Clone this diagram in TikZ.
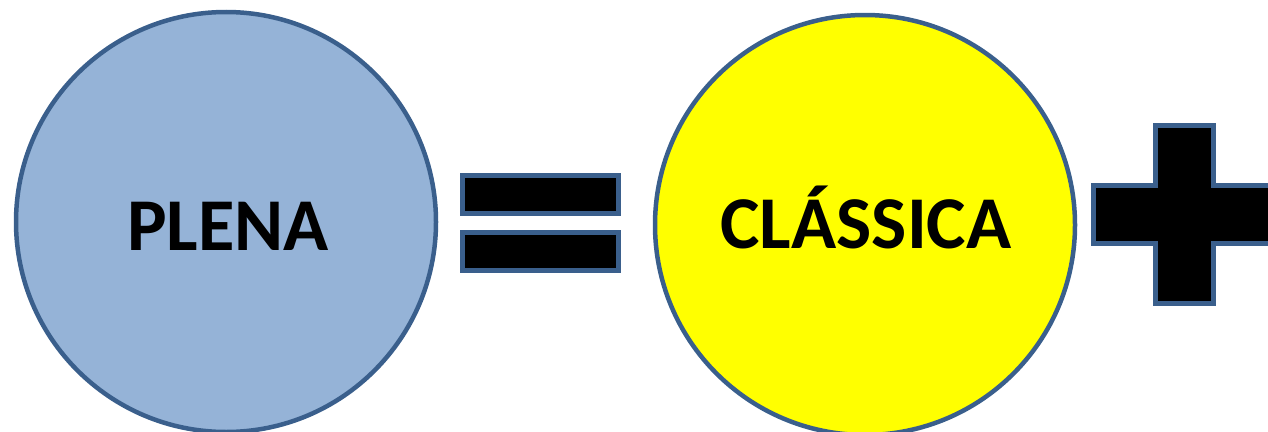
\documentclass[tikz,border=0pt]{standalone}
\usepackage{fontspec}
\setmainfont{Carlito}
\definecolor{edgeblue}{HTML}{3A5F8C}
\definecolor{fillblue}{HTML}{95B3D7}
\definecolor{fillyellow}{HTML}{FFFF00}
\begin{document}
\begin{tikzpicture}[x=1pt,y=-1pt,
  bigcircle/.style={circle,draw=edgeblue,line width=4.5pt,minimum size=420pt,inner sep=0pt},
  bigtext/.style={anchor=base,inner sep=0pt,font=\fontsize{74.5}{80}\selectfont\bfseries},
  opbar/.style={draw=edgeblue,fill=black,line width=5pt}]
\useasboundingbox (0,0) rectangle (1268,431);
\clip (0,0) rectangle (1268,431);
\node[bigcircle,fill=fillblue] (plena) at (226,222) {};
\node[bigtext] (plenatext) at (228,250) {PLENA};
\node[bigcircle,fill=fillyellow] (classica) at (865,225) {};
\node[bigtext] (classicatext) at (866,248) {CLÁSSICA};
\path[opbar] (462.5,175.5) rectangle (618.5,213.5);
\path[opbar] (462.5,232.5) rectangle (618.5,270.5);
\path[opbar] (1155.5,125.5) -- (1213.5,125.5) -- (1213.5,185.5) -- (1275,185.5) -- (1275,243.5) -- (1213.5,243.5) -- (1213.5,303.5) -- (1155.5,303.5) -- (1155.5,243.5) -- (1093.5,243.5) -- (1093.5,185.5) -- (1155.5,185.5) -- cycle;
\end{tikzpicture}
\end{document}
